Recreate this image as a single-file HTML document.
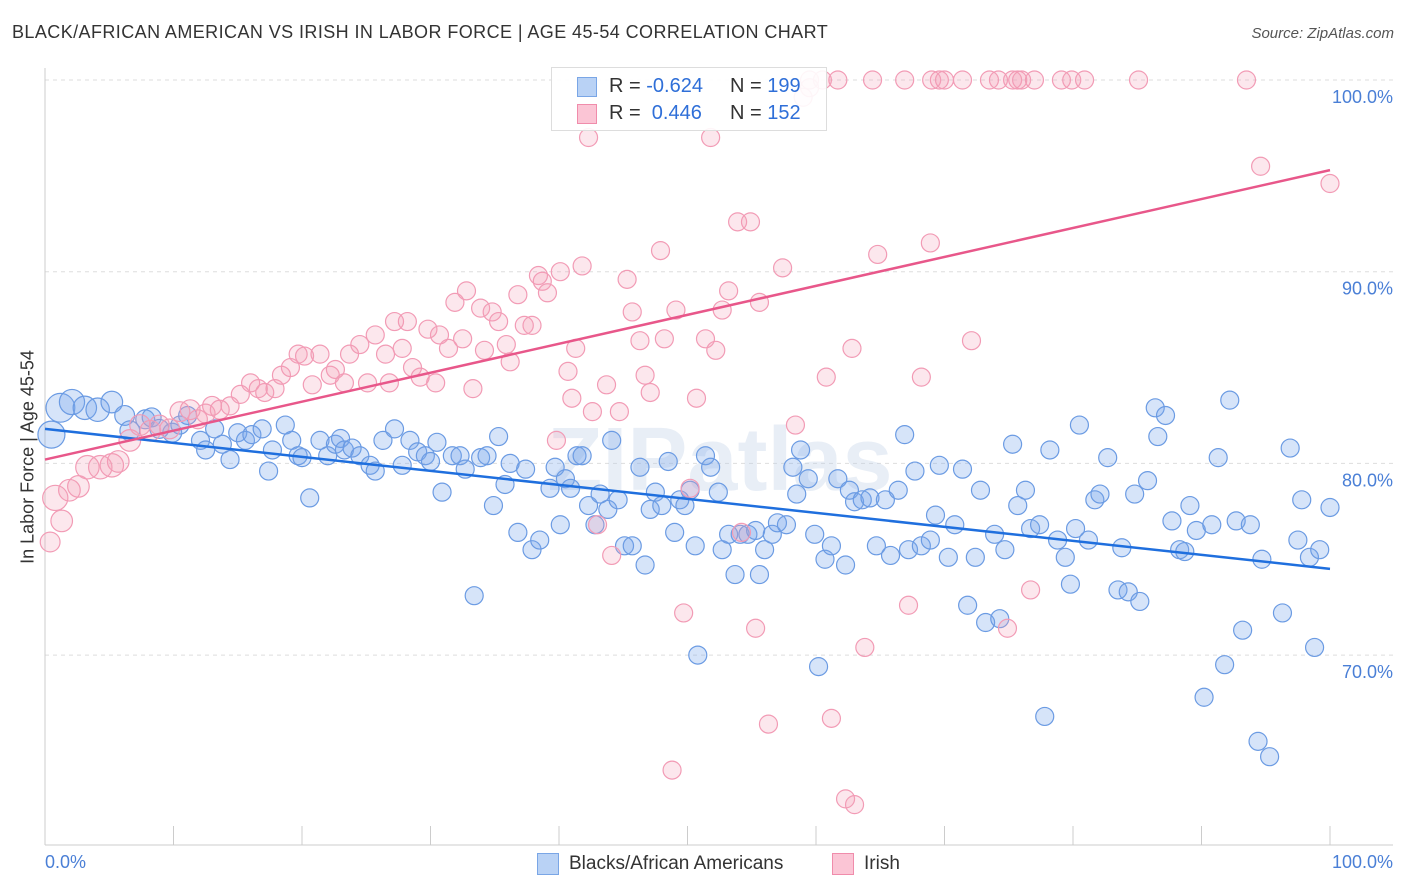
<!DOCTYPE html>
<html><head><meta charset="utf-8">
<style>
body{margin:0;background:#fff;font-family:"Liberation Sans",sans-serif;}
#wrap{position:relative;width:1406px;height:892px;overflow:hidden;}
.t{position:absolute;white-space:nowrap;}
</style></head><body>
<div id="wrap">
<div class="t" style="left:12px;top:22px;font-size:18px;letter-spacing:0.42px;color:#333;">BLACK/AFRICAN AMERICAN VS IRISH IN LABOR FORCE | AGE 45-54 CORRELATION CHART</div>
<div class="t" style="right:12px;top:25px;font-size:15px;color:#555;font-style:italic;">Source: ZipAtlas.com</div>
<svg id="plot" width="1406" height="892" style="position:absolute;left:0;top:0"></svg>
<div class="t" style="left:28px;top:457px;font-size:18px;color:#333;transform:translate(-50%,-50%) rotate(-90deg);">In Labor Force | Age 45-54</div>
<div class="t" style="left:45px;top:852px;font-size:18px;color:#4a7fd6;">0.0%</div>
<div class="t" style="right:13px;top:852px;font-size:18px;color:#4a7fd6;">100.0%</div>
<div style="position:absolute;left:551px;top:67px;width:274px;height:62px;border:1px solid #ddd;background:rgba(255,255,255,0.9);">
 <div style="position:absolute;left:25px;top:9px;width:18px;height:18px;background:#b9d2f5;border:1px solid #7aa6e6;"></div>
 <div class="t" style="left:57px;top:7px;font-size:20px;color:#333;">R = <span style="color:#2f6fd8">-0.624</span></div>
 <div class="t" style="left:178px;top:7px;font-size:20px;color:#333;">N = <span style="color:#2f6fd8">199</span></div>
 <div style="position:absolute;left:25px;top:36px;width:18px;height:18px;background:#fbc5d5;border:1px solid #f08cab;"></div>
 <div class="t" style="left:57px;top:34px;font-size:20px;color:#333;">R = &nbsp;<span style="color:#2f6fd8">0.446</span></div>
 <div class="t" style="left:178px;top:34px;font-size:20px;color:#333;">N = <span style="color:#2f6fd8">152</span></div>
</div>
<div style="position:absolute;left:537px;top:853px;">
 <div style="position:absolute;left:0;top:0;width:20px;height:20px;background:#b9d2f5;border:1px solid #7aa6e6;"></div>
 <div class="t" style="left:32px;top:0;font-size:19px;color:#333;">Blacks/African Americans</div>
</div>
<div style="position:absolute;left:832px;top:853px;">
 <div style="position:absolute;left:0;top:0;width:20px;height:20px;background:#fbc5d5;border:1px solid #f08cab;"></div>
 <div class="t" style="left:32px;top:0;font-size:19px;color:#333;">Irish</div>
</div>
</div>
<script>
const yTicks=[100,90,80,70];
const yTickLabels=["100.0%","90.0%","80.0%","70.0%"];
const xTicks=[0,10,20,30,40,50,60,70,80,90,100];
const blueX=[0.5,1.2,2.1,3.1,4.1,5.2,6.2,6.6,7.8,8.3,8.9,9.9,10.5,11.1,12.1,12.5,13.2,13.8,14.4,15.0,15.6,16.1,16.9,17.4,17.7,18.7,19.2,19.7,20.0,20.6,21.4,22.0,22.6,23.0,23.3,23.9,24.5,25.3,25.7,26.3,27.2,27.8,28.4,29.0,29.6,30.0,30.5,30.9,31.7,32.3,32.7,33.4,33.9,34.4,34.9,35.3,35.8,36.2,36.8,37.4,37.9,38.5,39.3,39.7,40.1,40.5,40.9,41.4,41.8,42.3,42.8,43.2,43.8,44.1,44.6,45.1,45.7,46.3,46.7,47.1,47.5,48.0,48.5,49.0,49.4,49.8,50.2,50.6,50.8,51.4,51.8,52.4,52.7,53.2,53.7,54.1,54.7,55.3,55.6,56.0,56.6,57.0,57.7,58.2,58.5,58.8,59.4,59.9,60.2,60.7,61.2,61.7,62.3,62.6,63.0,63.6,64.2,64.7,65.4,65.8,66.4,66.9,67.2,67.7,68.2,68.9,69.3,69.6,70.3,70.8,71.4,71.8,72.4,72.8,73.2,73.9,74.3,74.7,75.3,75.7,76.3,76.7,77.4,77.8,78.2,78.8,79.4,79.8,80.2,80.5,81.2,81.7,82.1,82.7,83.5,83.8,84.3,84.8,85.2,85.8,86.4,86.6,87.2,87.7,88.3,88.7,89.1,89.6,90.2,90.8,91.3,91.8,92.2,92.7,93.2,93.8,94.4,94.7,95.3,96.3,96.9,97.5,97.8,98.4,98.8,99.2,100];
const blueY=[81.5,82.9,83.2,82.9,82.8,83.2,82.5,81.7,82.3,82.4,81.8,81.6,82.0,82.5,81.2,80.7,81.8,81.0,80.2,81.6,81.2,81.5,81.8,79.6,80.7,82.0,81.2,80.4,80.3,78.2,81.2,80.4,81.0,81.3,80.7,80.8,80.4,79.9,79.6,81.2,81.8,79.9,81.2,80.6,80.4,80.1,81.1,78.5,80.4,80.4,79.7,73.1,80.3,80.4,77.8,81.4,78.9,80.0,76.4,79.7,75.5,76.0,78.7,79.8,76.8,79.2,78.7,80.4,80.4,77.8,76.8,78.4,77.6,81.2,78.1,75.7,75.7,79.8,74.7,77.6,78.5,77.8,80.1,76.4,78.1,77.8,78.6,75.7,70.0,80.4,79.8,78.5,75.5,76.3,74.2,76.3,76.3,76.5,74.2,75.5,76.3,76.9,76.8,79.8,78.4,80.7,79.2,76.3,69.4,75.0,75.7,79.2,74.7,78.6,78.0,78.1,78.2,75.7,78.1,75.2,78.6,81.5,75.5,79.6,75.7,76.0,77.3,79.9,75.1,76.8,79.7,72.6,75.1,78.6,71.7,76.3,71.9,75.5,81.0,77.8,78.6,76.6,76.8,66.8,80.7,76.0,75.1,73.7,76.6,82.0,76.0,78.1,78.4,80.3,73.4,75.6,73.3,78.4,72.8,79.1,82.9,81.4,82.5,77.0,75.5,75.4,77.8,76.5,67.8,76.8,80.3,69.5,83.3,77.0,71.3,76.8,65.5,75.0,64.7,72.2,80.8,76.0,78.1,75.1,70.4,75.5,77.7];
const blueSize=[1.5,1.6,1.4,1.3,1.3,1.2,1.1,1.1,1.05,1.05,1.05,1.05];
const pinkX=[0.4,0.8,1.3,1.9,2.6,3.3,4.3,5.2,5.7,6.6,7.4,8.2,8.9,9.7,10.5,11.3,11.9,12.5,13.0,13.6,14.4,15.2,16.0,16.6,17.1,17.9,18.4,19.1,19.7,20.2,20.8,21.4,22.2,22.6,23.3,23.7,24.5,25.1,25.7,26.5,26.8,27.2,27.8,28.2,28.6,29.2,29.8,30.4,30.7,31.4,31.9,32.5,32.8,33.3,33.9,34.2,34.8,35.3,35.9,36.2,36.8,37.3,37.9,38.4,38.7,39.1,39.8,40.1,40.7,41.0,41.3,41.8,42.3,42.6,43.0,43.7,44.1,44.7,45.3,45.7,46.3,46.7,47.1,47.9,48.2,48.8,49.1,49.7,50.2,50.7,51.4,51.8,52.2,52.7,53.2,53.9,54.2,54.9,55.3,55.6,56.3,57.4,58.4,59.0,59.5,60.8,61.2,62.3,63.0,62.8,63.8,64.8,67.2,68.2,68.9,72.1,74.9,76.7,94.6,100,59.5,60.5,61.7,64.4,66.9,69.0,69.6,70.0,71.4,73.5,74.2,75.3,75.7,76.0,77.0,79.1,79.9,80.9,85.1,93.5];
const pinkY=[75.9,78.2,77.0,78.6,78.8,79.8,79.8,79.9,80.1,81.2,82.0,81.7,82.0,81.8,82.7,82.8,82.3,82.6,83.0,82.8,83.0,83.6,84.2,83.9,83.7,83.9,84.6,85.0,85.7,85.6,84.1,85.7,84.6,84.9,84.2,85.7,86.2,84.2,86.7,85.7,84.2,87.4,86.0,87.4,85.0,84.5,87.0,84.2,86.7,86.0,88.4,86.5,89.0,83.9,88.1,85.9,87.9,87.4,86.2,85.3,88.8,87.2,87.2,89.8,89.5,88.9,81.2,90.0,84.8,83.4,86.0,90.3,97.0,82.7,76.8,84.1,75.2,82.7,89.6,87.9,86.4,84.6,83.7,91.1,86.5,64.0,88.0,72.2,78.7,83.4,86.5,97.0,85.9,88.0,89.0,92.6,76.4,92.6,71.4,88.4,66.4,90.2,82.0,99.1,99.6,84.5,66.7,62.5,62.2,86.0,70.4,90.9,72.6,84.5,91.5,86.4,71.4,73.4,95.5,94.6,100,100,100,100,100,100,100,100,100,100,100,100,100,100,100,100,100,100,100,100];
const pinkSize=[1.1,1.4,1.2,1.2,1.2,1.3,1.3,1.3,1.2,1.2,1.15,1.15,1.1,1.1,1.1,1.1,1.05,1.05,1.05,1.05];
const blueTrend=[81.8,74.5];
const pinkTrend=[80.2,95.3];
const X0=45,X1=1330,YTOP=80,PX_PER=19.17;
function xs(v){return X0+(X1-X0)*v/100;}
function ys(v){return YTOP+(100-v)*PX_PER;}
const svg=document.getElementById('plot');
const NS='http://www.w3.org/2000/svg';
function mk(t,a){const e=document.createElementNS(NS,t);for(const k in a)e.setAttribute(k,a[k]);svg.appendChild(e);return e;}
yTicks.forEach((v,i)=>{
 const g=mk('line',{x1:45,x2:1393,y1:ys(v),y2:ys(v),stroke:'#ddd','stroke-dasharray':'4,4'});
 
 
 const t=mk('text',{x:1393,y:ys(v)+23,'text-anchor':'end','font-size':18,fill:'#4a7fd6','font-family':'Liberation Sans, sans-serif'});
 t.textContent=yTickLabels[i];
 
 
});
const ax=mk('line',{x1:45,x2:1393,y1:845,y2:845,stroke:'#ccc'});


const ay=mk('line',{x1:45,x2:45,y1:68,y2:845,stroke:'#ccc'});


xTicks.forEach(v=>{
 const l=mk('line',{x1:xs(v),x2:xs(v),y1:826,y2:845,stroke:'#ccc'});
 
 
});
const wm=mk('text',{x:720,y:490,'text-anchor':'middle','font-size':90,fill:'rgba(190,205,230,0.35)','font-family':'Liberation Sans, sans-serif','font-weight':'bold'});
wm.textContent='ZIPatlas';


blueX.forEach((v,i)=>{
 const c=mk('circle',{cx:xs(v),cy:ys(blueY[i]),r:9*(blueSize[i]||1),fill:'rgba(120,165,235,0.3)',stroke:'#6b9be3','stroke-width':1.2});
 
 
});
pinkX.forEach((v,i)=>{
 const c=mk('circle',{cx:xs(v),cy:ys(pinkY[i]),r:9*(pinkSize[i]||1),fill:'rgba(245,160,185,0.25)',stroke:'#f29bb5','stroke-width':1.2});
 
 
});
const bl=mk('line',{x1:xs(0),y1:ys(blueTrend[0]),x2:xs(100),y2:ys(blueTrend[1]),stroke:'#1f6fde','stroke-width':2.5});


const pl=mk('line',{x1:xs(0),y1:ys(pinkTrend[0]),x2:xs(100),y2:ys(pinkTrend[1]),stroke:'#e8578a','stroke-width':2.5});


</script>
</body></html>
